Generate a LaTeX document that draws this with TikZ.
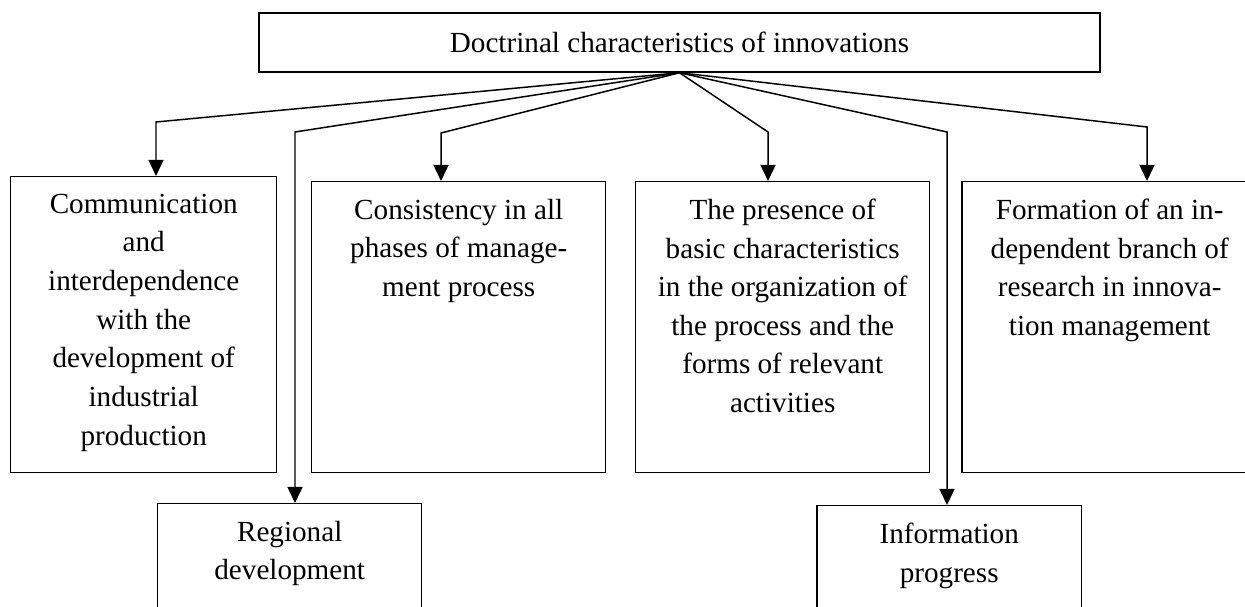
\documentclass[tikz,border=0pt]{standalone}
\usepackage{fontspec}
\setmainfont{Liberation Serif}
\usetikzlibrary{arrows.meta}

\begin{document}
\begin{tikzpicture}[x=0.02cm, y=-0.02cm]
	\tikzstyle{box} = [ draw, rectangle, line width=0.85pt, anchor=north west, inner sep=0pt ];
	\tikzstyle{head} = [ draw, rectangle, line width=0.85pt, inner sep=0pt, font={\fontsize{16.6pt}{22pt}\selectfont} ];
	\tikzstyle{txt} = [ anchor=north, align=center, inner sep=0pt, font={\fontsize{16.6pt}{22pt}\selectfont} ];
	\tikzstyle{branch} = [ ->, line width=0.85pt, >={Triangle[length=0.32cm, width=0.3cm]} ];

	\clip (0,0) rectangle (1245,607);

	\node[head, minimum width=16.82cm, minimum height=1.18cm] (top) at (679.5,42.5) {Doctrinal characteristics of innovations};

	\node[box, minimum width=5.32cm, minimum height=5.92cm] (comm) at (10,176) {};
	\node[box, minimum width=5.88cm, minimum height=5.82cm] (cons) at (311,181) {};
	\node[box, minimum width=5.88cm, minimum height=5.82cm] (pres) at (635,181) {};
	\node[box, minimum width=5.92cm, minimum height=5.82cm] (form) at (961,181) {};
	\node[box, minimum width=5.28cm, minimum height=2.4cm] (reg) at (157,503) {};
	\node[box, minimum width=5.30cm, minimum height=2.4cm] (info) at (816,505) {};

	\node[txt] (commt) at ([yshift=-0.35cm]comm.north) {Communication\\and\\interdependence\\with the\\development of\\industrial\\production};
	\node[txt] (const) at ([yshift=-0.35cm]cons.north) {Consistency in all\\phases of manage-\\ment process};
	\node[txt] (prest) at ([yshift=-0.35cm]pres.north) {The presence of\\basic characteristics\\in the organization of\\the process and the\\forms of relevant\\activities};
	\node[txt] (formt) at ([yshift=-0.35cm]form.north) {Formation of an in-\\dependent branch of\\research in innova-\\tion management};
	\node[txt] (regt) at ([yshift=-0.35cm]reg.north) {Regional\\development};
	\node[txt] (infot) at ([yshift=-0.35cm]info.north) {Information\\progress};

	\foreach \b/\x/\y in {comm/156/122, reg/295/132, cons/441/133, pres/768/132, info/947/132, form/1147/127} {
		\coordinate (k\b) at (\x,\y);
		\draw[branch] (top.south) -- (k\b) -- (k\b |- \b.north);
	}
\end{tikzpicture}
\end{document}
